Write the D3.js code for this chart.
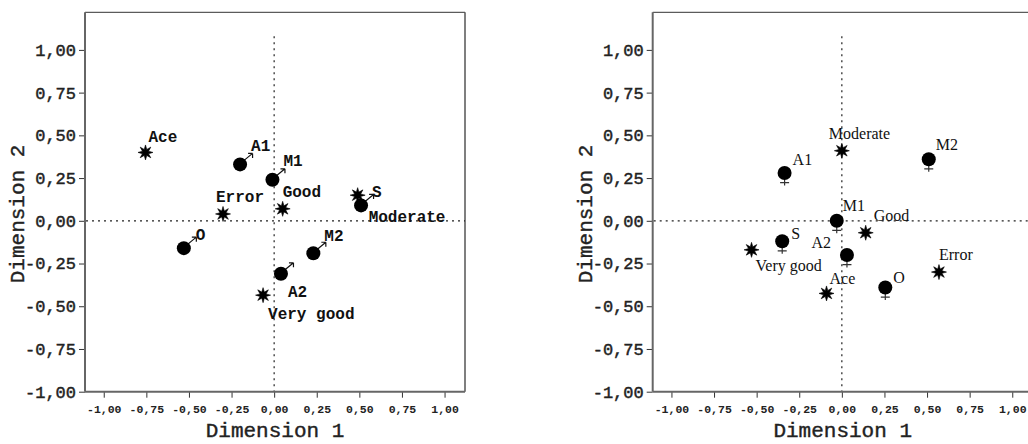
<!DOCTYPE html>
<html lang="en">
<head>
<meta charset="UTF-8">
<title>Joint plot of category points</title>
<script src="https://d3js.org/d3.v7.min.js"></script>
<style>
  body { margin: 0; background: #fff; }
  svg { display: block; }
</style>
</head>
<body>
<script>
// category names
const groupNames = ["A1", "M1", "O", "M2", "A2", "S"];
const qualityNames = ["Ace", "Error", "Good", "Moderate", "Very good"];

// left panel (male)
const maleGroupDim1 = [-0.20, -0.01, -0.53, 0.23, 0.04, 0.51];
const maleGroupDim2 = [0.33, 0.24, -0.16, -0.19, -0.31, 0.09];
const maleQualityDim1 = [-0.755, -0.30, 0.05, 0.49, -0.065];
const maleQualityDim2 = [0.40, 0.04, 0.07, 0.15, -0.435];

// right panel (female)
const femaleGroupDim1 = [-0.336, -0.03, 0.255, 0.51, 0.03, -0.35];
const femaleGroupDim2 = [0.28, 0.00, -0.39, 0.36, -0.20, -0.12];
const femaleQualityDim1 = [-0.09, 0.57, 0.14, 0.00, -0.53];
const femaleQualityDim2 = [-0.425, -0.30, -0.07, 0.41, -0.17];

const tickValues = [-1, -0.75, -0.5, -0.25, 0, 0.25, 0.5, 0.75, 1];

// label placement: [dx, dy, anchor]
const maleLabelPos = {
  "A1": [11, -19, "start"], "M1": [11, -19, "start"], "O": [12, -14, "start"],
  "M2": [11, -18, "start"], "A2": [7, 18, "start"], "S": [11, -14, "start"],
  "Ace": [3, -16, "start"], "Error": [-7, -18, "start"], "Good": [0, -17, "start"],
  "Moderate": [11, 21, "start"], "Very good": [5, 18, "start"]
};
const femaleLabelPos = {
  "A1": [8, -14, "start"], "M1": [6, -15, "start"], "O": [8, -10, "start"],
  "M2": [7, -15, "start"], "A2": [-16, -13, "end"], "S": [9, -8, "start"],
  "Ace": [3, -15, "start"], "Error": [0, -18, "start"], "Good": [8, -17, "start"],
  "Moderate": [-13, -17, "start"], "Very good": [4, 16, "start"]
};

const W = 1028, H = 444;
const mono = "'Liberation Mono', 'Courier New', monospace";
const serif = "'Liberation Serif', 'Times New Roman', serif";

const svg = d3.select("body").append("svg").attr("width", W).attr("height", H);

const fmt = d3.formatLocale({decimal: ",", thousands: ".", grouping: [3], currency: ["", ""], minus: "-"}).format(".2f");

// 8-point asterisk
function starPath(ro, ri) {
  const pts = d3.range(16).map(i => {
    const a = i * Math.PI / 8 - Math.PI / 2;
    const r = i % 2 ? ri : ro;
    return [r * Math.cos(a), r * Math.sin(a)];
  });
  return "M" + pts.map(p => p.join(",")).join("L") + "Z";
}

function drawPanel(left, groupX, groupY, qualX, qualY, labelPos, labelFont, labelWeight, sex) {
  const x = d3.scaleLinear().domain([-1.11, 1.12]).range([left, left + 380]);
  const y = d3.scaleLinear().domain([-1, 1.22]).range([391.7, 12.3]);
  const g = svg.append("g");

  // axes
  const yAxis = g.append("g").attr("transform", `translate(${left},0)`)
    .call(d3.axisLeft(y).tickValues(tickValues).tickFormat(fmt).tickSize(6).tickPadding(3));
  yAxis.select(".domain").remove();
  yAxis.selectAll("line").attr("stroke", "#333");
  yAxis.selectAll("text").attr("font-family", mono).attr("font-size", 17).attr("fill", "#222")
    .attr("stroke", "#222").attr("stroke-width", 0.45);

  const xAxis = g.append("g").attr("transform", `translate(0,${y(-1)})`)
    .call(d3.axisBottom(x).tickValues(tickValues).tickFormat(fmt).tickSize(6).tickPadding(7));
  xAxis.select(".domain").remove();
  xAxis.selectAll("line").attr("stroke", "#333");
  xAxis.selectAll("text").attr("font-family", mono).attr("font-size", 11.5)
    .attr("font-weight", "bold").attr("fill", "#222");

  // frame
  const [x0, x1] = x.range(), [y0, y1] = [y(1.22), y(-1)];
  g.append("line").attr("x1", x0).attr("x2", x1).attr("y1", y0).attr("y2", y0)
    .attr("stroke", "#333").attr("stroke-width", 1);
  g.append("line").attr("x1", x1).attr("x2", x1).attr("y1", y0).attr("y2", y1)
    .attr("stroke", "#555").attr("stroke-width", 1.5);
  g.append("line").attr("x1", x0).attr("x2", x0).attr("y1", y0).attr("y2", y1)
    .attr("stroke", "#666").attr("stroke-width", 2);
  g.append("line").attr("x1", x0).attr("x2", x1).attr("y1", y1).attr("y2", y1)
    .attr("stroke", "#666").attr("stroke-width", 2);

  // reference lines
  g.append("line").attr("x1", x0 + 1).attr("x2", x1).attr("y1", y(0)).attr("y2", y(0))
    .attr("stroke", "#222").attr("stroke-width", 1.2).attr("stroke-dasharray", "2,4");
  g.append("line").attr("x1", x(0)).attr("x2", x(0)).attr("y1", y(1.08)).attr("y2", y1 - 1)
    .attr("stroke", "#222").attr("stroke-width", 1.2).attr("stroke-dasharray", "2,4");

  // axis titles
  g.append("text").attr("x", (x0 + x1) / 2).attr("y", 437).attr("text-anchor", "middle")
    .attr("font-family", mono).attr("font-size", 21).attr("fill", "#222")
    .attr("stroke", "#222").attr("stroke-width", 0.4).text("Dimension 1");
  g.append("text").attr("transform", `translate(${left - 61},${y(0.04)}) rotate(-90)`)
    .attr("text-anchor", "middle").attr("font-family", mono).attr("font-size", 21)
    .attr("fill", "#222").attr("stroke", "#222").attr("stroke-width", 0.4).text("Dimension 2");

  // group points (circles with sex symbol)
  const groups = groupNames.map((n, i) => ({name: n, d1: groupX[i], d2: groupY[i]}));
  const gp = g.selectAll(".grp").data(groups).enter().append("g")
    .attr("class", "grp").attr("transform", d => `translate(${x(d.d1)},${y(d.d2)})`);
  if (sex === "m") {
    gp.append("path").attr("d", "M4,-4L12.5,-11M12.5,-11H8M12.5,-11V-6.5")
      .attr("fill", "none").attr("stroke", "#111").attr("stroke-width", 1.2);
  } else {
    gp.append("path").attr("d", "M0,6V12.5M-4.5,9.6H4.5")
      .attr("fill", "none").attr("stroke", "#333").attr("stroke-width", 1.2);
  }
  gp.append("circle").attr("r", 7).attr("fill", "#000");

  // quality points (asterisks)
  const quals = qualityNames.map((n, i) => ({name: n, d1: qualX[i], d2: qualY[i]}));
  g.selectAll(".qual").data(quals).enter().append("path")
    .attr("class", "qual").attr("d", starPath(7.5, 3.3)).attr("fill", "#000")
    .attr("stroke", "#000").attr("stroke-width", 0.6)
    .attr("transform", d => `translate(${x(d.d1)},${y(d.d2)})`);

  // labels
  g.selectAll(".lbl").data(groups.concat(quals)).enter().append("text")
    .attr("class", "lbl")
    .attr("x", d => x(d.d1) + labelPos[d.name][0])
    .attr("y", d => y(d.d2) + labelPos[d.name][1])
    .attr("dy", "0.35em")
    .attr("text-anchor", d => labelPos[d.name][2])
    .attr("font-family", labelFont).attr("font-size", 16).attr("font-weight", labelWeight)
    .attr("fill", "#111")
    .text(d => d.name);
}

drawPanel(85, maleGroupDim1, maleGroupDim2, maleQualityDim1, maleQualityDim2, maleLabelPos, mono, "bold", "m");
drawPanel(652.7, femaleGroupDim1, femaleGroupDim2, femaleQualityDim1, femaleQualityDim2, femaleLabelPos, serif, "normal", "f");
</script>
</body>
</html>
